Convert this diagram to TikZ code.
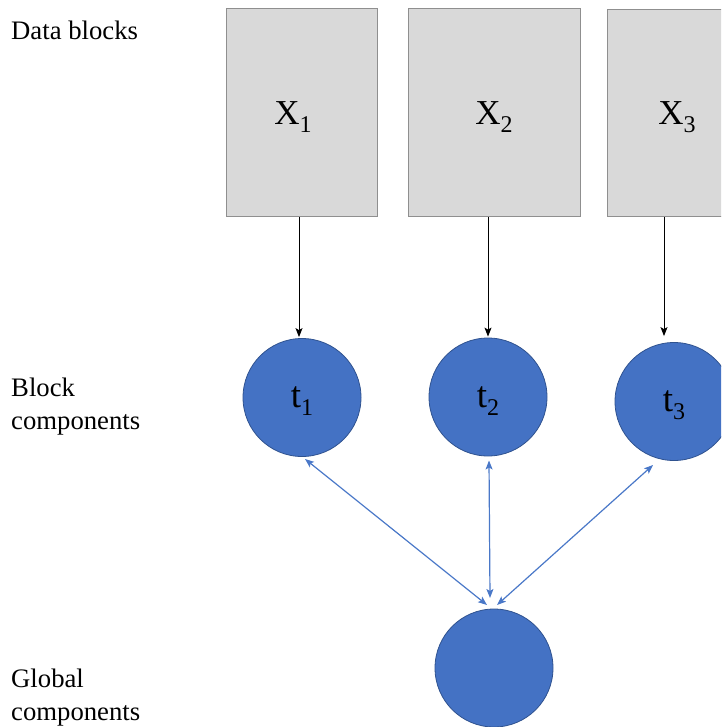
\documentclass[tikz,border=0pt]{standalone}
\usepackage{fontspec}
\setmainfont{Liberation Serif}
\usetikzlibrary{arrows.meta}
\definecolor{boxfill}{HTML}{D9D9D9}
\definecolor{boxline}{HTML}{8F8F8F}
\definecolor{cfill}{HTML}{4472C4}
\definecolor{cline}{HTML}{2F528F}
\definecolor{lblue}{HTML}{4A78C8}
\newcommand{\bigsub}[2]{#1\raisebox{-8pt}[0pt][0pt]{\fontsize{24}{24}\selectfont #2}}
\begin{document}
\begin{tikzpicture}[x=1pt,y=-1pt,
  block/.style={draw=boxline, fill=boxfill, line width=1pt, inner sep=0pt,
    font=\fontsize{35}{35}\selectfont},
  comp/.style={circle, draw=cline, fill=cfill, line width=0.8pt, minimum size=118pt,
    inner sep=0pt, font=\fontsize{37}{37}\selectfont},
  lab/.style={anchor=base west, align=left, inner sep=0pt,
    font=\fontsize{26.7}{32.5}\selectfont},
  blk/.style={line width=1pt, -{Stealth[length=9pt,width=7pt,inset=2pt]}},
  blu/.style={draw=lblue, line width=1.2pt,
    {Stealth[length=9pt,width=7pt,inset=2pt]}-{Stealth[length=9pt,width=7pt,inset=2pt]}}
]
\useasboundingbox (0,0) rectangle (721,727);
\clip (0,0) rectangle (721,727);

% labels
\node[lab] (ldata) at (11,40) {Data blocks};
\node[lab] (lblock) at (11,429) {Block\\components};
\node[lab] (lglob) at (11,720) {Global\\components};

% data blocks
\node[block, minimum width=151pt, minimum height=208pt] (b1) at (301.5,113) {\bigsub{X}{1}\hspace*{17pt}};
\node[block, minimum width=172pt, minimum height=208pt] (b2) at (494,113) {\bigsub{X}{2}};
\node[block, minimum width=140pt, minimum height=207pt] (b3) at (677,113.5) {\bigsub{X}{3}};

% block components
\node[comp] (t1) at (302,397.5) {\bigsub{t}{1}};
\node[comp] (t2) at (488,397) {\bigsub{t}{2}};
\node[comp] (t3) at (674,401.5) {\bigsub{t}{3}};

% global component
\node[comp] (g) at (494,668) {};

% black arrows
\draw[blk] ([xshift=-2.5pt]b1.south) -- ([xshift=-3pt,yshift=1pt]t1.north);
\draw[blk] ([xshift=-6pt]b2.south) -- ([yshift=1pt]t2.north);
\draw[blk] ([xshift=-13pt]b3.south) -- ([xshift=-10pt,yshift=6pt]t3.north);

% blue double arrows
\draw[blu] ([shift={(3,61.5)}]t1.center) -- ([shift={(-7,-63)}]g.center);
\draw[blu] ([shift={(1,63.5)}]t2.center) -- ([shift={(-4,-70)}]g.center);
\draw[blu] ([shift={(-21,63.5)}]t3.center) -- ([shift={(3,-63)}]g.center);
\end{tikzpicture}
\end{document}
